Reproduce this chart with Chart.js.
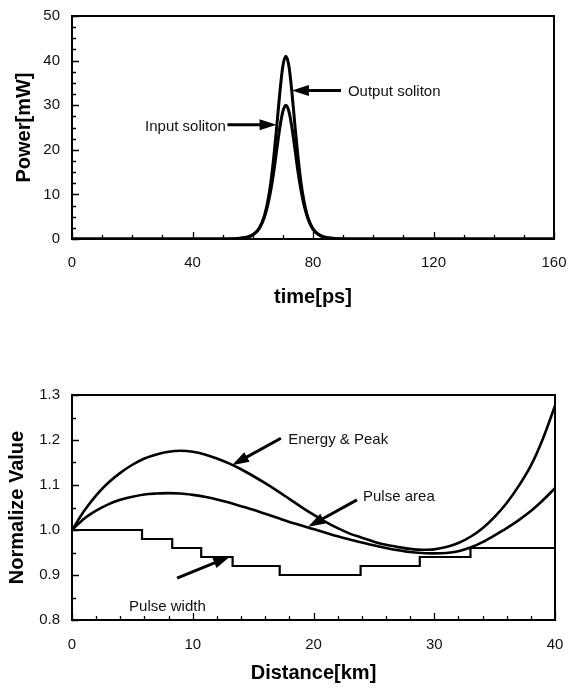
<!DOCTYPE html>
<html>
<head>
<meta charset="utf-8">
<script src="https://cdn.jsdelivr.net/npm/chart.js@4.4.0/dist/chart.umd.min.js"></script>
<style>
    html, body { margin: 0; padding: 0; background: #fff; }
    canvas { position: absolute; left: 0; }
    #graficoSoliton { top: 0; }
    #graficoDistancia { top: 320px; }
</style>
</head>
<body>
<canvas id="graficoSoliton" width="568" height="320"></canvas>
<canvas id="graficoDistancia" width="568" height="369"></canvas>
<script>
// Datos del pulso (gráfico superior)
const tiempo = [0, 40, 51, 55, 57, 59, 61, 62, 63, 64, 65, 66, 67, 68, 69, 70, 71, 72, 73, 74, 75, 76, 77, 78, 79, 80, 81, 83, 85, 87, 91, 102, 160];
const potenciaEntrada = [0, 0, 0.02, 0.11, 0.27, 0.64, 1.5, 2.3, 3.5, 5.2, 7.7, 11.0, 15.2, 20.2, 25.0, 28.6, 30, 28.6, 25.0, 20.2, 15.2, 11.0, 7.7, 5.2, 3.5, 2.3, 1.5, 0.64, 0.27, 0.11, 0.02, 0, 0];
const potenciaSalida = [0, 0, 0.01, 0.08, 0.21, 0.54, 1.4, 2.2, 3.5, 5.5, 8.5, 12.7, 18.5, 25.5, 32.9, 38.8, 41, 38.8, 32.9, 25.5, 18.5, 12.7, 8.5, 5.5, 3.5, 2.2, 1.4, 0.54, 0.21, 0.08, 0.01, 0, 0];

// Datos vs distancia (gráfico inferior)
const distancia = [0, 1, 2, 3, 4, 5, 6, 7, 8, 9, 10, 11, 12, 13, 14, 15, 16, 17, 18, 19, 20, 21, 22, 23, 24, 25, 26, 27, 28, 29, 30, 31, 32, 33, 34, 35, 36, 37, 38, 39, 40];
const energiaPico = [1.000, 1.042, 1.077, 1.105, 1.127, 1.145, 1.159, 1.168, 1.174, 1.176, 1.174, 1.168, 1.159, 1.148, 1.135, 1.120, 1.104, 1.087, 1.069, 1.051, 1.034, 1.018, 1.004, 0.992, 0.983, 0.974, 0.967, 0.962, 0.958, 0.956, 0.957, 0.962, 0.971, 0.985, 1.004, 1.029, 1.060, 1.098, 1.143, 1.203, 1.276];
const areaPulso = [1.000, 1.025, 1.043, 1.057, 1.067, 1.074, 1.079, 1.081, 1.082, 1.081, 1.078, 1.074, 1.068, 1.061, 1.053, 1.045, 1.036, 1.027, 1.018, 1.010, 1.002, 0.994, 0.986, 0.979, 0.972, 0.966, 0.960, 0.955, 0.951, 0.949, 0.948, 0.949, 0.953, 0.961, 0.973, 0.988, 1.004, 1.022, 1.042, 1.066, 1.093];
const anchoDistancia = [0, 5.8, 8.3, 10.7, 13.3, 17.2, 23.9, 28.8, 33.0, 40];
const anchoPulso = [1.00, 0.98, 0.96, 0.94, 0.92, 0.90, 0.92, 0.94, 0.96, 0.96];

const fuente = "'Liberation Sans', Arial, sans-serif";

// Marco, marcas interiores y flechas
const marcoPlugin = {
    id: 'marco',
    afterDatasetsDraw(chart, args, opts) {
        const ctx = chart.ctx;
        const { left, right, top, bottom } = chart.chartArea;
        const x = chart.scales.x;
        const y = chart.scales.y;
        ctx.save();
        ctx.strokeStyle = '#000';
        ctx.lineWidth = 1.3;
        ctx.beginPath();
        const nx = Math.round((x.max - x.min) / opts.xMenor);
        for (let i = 0; i <= nx; i++) {
            const v = x.min + i * opts.xMenor;
            const px = Math.round(x.getPixelForValue(v)) + 0.5;
            const r = v / opts.xMayor;
            const largo = Math.abs(r - Math.round(r)) < 1e-6 ? 7 : 4;
            ctx.moveTo(px, bottom);
            ctx.lineTo(px, bottom - largo);
        }
        const ny = Math.round((y.max - y.min) / opts.yMenor);
        for (let i = 0; i <= ny; i++) {
            const v = y.min + i * opts.yMenor;
            const py = Math.round(y.getPixelForValue(v)) + 0.5;
            const r = (v - y.min) / opts.yMayor;
            const largo = Math.abs(r - Math.round(r)) < 1e-6 ? 7 : 4;
            ctx.moveTo(left, py);
            ctx.lineTo(left + largo, py);
        }
        ctx.stroke();
        ctx.lineWidth = 2;
        ctx.strokeRect(left, top, right - left, bottom - top);

        // Flechas y textos
        (opts.notas || []).forEach(n => {
            const x0 = x.getPixelForValue(n.desde[0]);
            const y0 = y.getPixelForValue(n.desde[1]);
            const x1 = x.getPixelForValue(n.hasta[0]);
            const y1 = y.getPixelForValue(n.hasta[1]);
            const ang = Math.atan2(y1 - y0, x1 - x0);
            const cabeza = 17;
            const ancho = 5.5;
            ctx.lineWidth = 3;
            ctx.beginPath();
            ctx.moveTo(x0, y0);
            ctx.lineTo(x1 - cabeza * 0.8 * Math.cos(ang), y1 - cabeza * 0.8 * Math.sin(ang));
            ctx.stroke();
            ctx.fillStyle = '#000';
            ctx.beginPath();
            ctx.moveTo(x1, y1);
            ctx.lineTo(x1 - cabeza * Math.cos(ang) + ancho * Math.sin(ang), y1 - cabeza * Math.sin(ang) - ancho * Math.cos(ang));
            ctx.lineTo(x1 - cabeza * Math.cos(ang) - ancho * Math.sin(ang), y1 - cabeza * Math.sin(ang) + ancho * Math.cos(ang));
            ctx.closePath();
            ctx.fill();
            ctx.font = '15px ' + fuente;
            ctx.fillStyle = '#111';
            ctx.textAlign = n.alinear;
            ctx.textBaseline = 'middle';
            ctx.fillText(n.texto, x.getPixelForValue(n.pos[0]), y.getPixelForValue(n.pos[1]));
        });
        ctx.restore();
    }
};

// La separación de las etiquetas va en tickLength (no cuenta como relleno lateral)
function opcionesEjes(cfg) {
    return {
        x: {
            type: 'linear',
            min: cfg.xMin, max: cfg.xMax,
            grid: { display: false, drawTicks: true, tickLength: cfg.xPad },
            border: { display: false },
            ticks: { stepSize: cfg.xPaso, padding: 0, color: '#111', font: { family: fuente, size: 15 } },
            title: { display: true, text: cfg.xTitulo, color: '#000', padding: { top: 0, bottom: cfg.xTitPad }, font: { family: fuente, size: 20, weight: 'bold' } },
            afterFit: s => { s.height = cfg.xAlto; }
        },
        y: {
            type: 'linear',
            min: cfg.yMin, max: cfg.yMax,
            grid: { display: false, drawTicks: true, tickLength: 12 },
            border: { display: false },
            ticks: { stepSize: cfg.yPaso, padding: 0, color: '#111', font: { family: fuente, size: 15 }, callback: cfg.yFormato },
            title: { display: true, text: cfg.yTitulo, color: '#000', padding: { top: cfg.yTitPad, bottom: 0 }, font: { family: fuente, size: 20, weight: 'bold' } },
            afterFit: s => { s.width = 72; }
        }
    };
}

function linea(datos, ancho, extra) {
    return Object.assign({
        data: datos,
        borderColor: '#000',
        borderWidth: ancho,
        pointRadius: 0,
        fill: false
    }, extra || {});
}

// Gráfico superior: potencia vs tiempo
new Chart(document.getElementById('graficoSoliton').getContext('2d'), {
    type: 'line',
    data: {
        datasets: [
            linea(tiempo.map((t, i) => ({ x: t, y: potenciaEntrada[i] })), 3, { cubicInterpolationMode: 'monotone' }),
            linea(tiempo.map((t, i) => ({ x: t, y: potenciaSalida[i] })), 3, { cubicInterpolationMode: 'monotone' })
        ]
    },
    options: {
        responsive: false,
        animation: false,
        layout: { autoPadding: false, padding: { top: 16, right: 14, left: 0, bottom: 0 } },
        plugins: {
            legend: { display: false },
            tooltip: { enabled: false },
            marco: {
                xMenor: 10, xMayor: 40, yMenor: 2.5, yMayor: 10,
                notas: [
                    { texto: 'Input soliton', pos: [51.1, 25.1], alinear: 'right', desde: [51.6, 25.6], hasta: [67.9, 25.6] },
                    { texto: 'Output soliton', pos: [91.6, 33.0], alinear: 'left', desde: [89.3, 33.3], hasta: [73.0, 33.3] }
                ]
            }
        },
        scales: opcionesEjes({
            xMin: 0, xMax: 160, xPaso: 40, xTitulo: 'time[ps]', xAlto: 81, xTitPad: 11, xPad: 15,
            yMin: 0, yMax: 50, yPaso: 10, yTitulo: 'Power[mW]', yTitPad: 12
        })
    },
    plugins: [marcoPlugin]
});

// Gráfico inferior: valores normalizados vs distancia
new Chart(document.getElementById('graficoDistancia').getContext('2d'), {
    type: 'line',
    data: {
        datasets: [
            linea(distancia.map((d, i) => ({ x: d, y: energiaPico[i] })), 2.6, { cubicInterpolationMode: 'monotone' }),
            linea(distancia.map((d, i) => ({ x: d, y: areaPulso[i] })), 2.6, { cubicInterpolationMode: 'monotone' }),
            linea(anchoDistancia.map((d, i) => ({ x: d, y: anchoPulso[i] })), 2.2, { stepped: true })
        ]
    },
    options: {
        responsive: false,
        animation: false,
        layout: { autoPadding: false, padding: { top: 75, right: 13, left: 0, bottom: 0 } },
        plugins: {
            legend: { display: false },
            tooltip: { enabled: false },
            marco: {
                xMenor: 2, xMayor: 10, yMenor: 0.05, yMayor: 0.1,
                notas: [
                    { texto: 'Energy & Peak', pos: [17.9, 1.2], alinear: 'left', desde: [17.3, 1.204], hasta: [13.25, 1.144] },
                    { texto: 'Pulse area', pos: [24.1, 1.073], alinear: 'left', desde: [23.6, 1.067], hasta: [19.55, 1.007] },
                    { texto: 'Pulse width', pos: [7.9, 0.829], alinear: 'center', desde: [8.7, 0.893], hasta: [13.1, 0.941] }
                ]
            }
        },
        scales: opcionesEjes({
            xMin: 0, xMax: 40, xPaso: 10, xTitulo: 'Distance[km]', xAlto: 69, xTitPad: 4, xPad: 16,
            yMin: 0.8, yMax: 1.3, yPaso: 0.1, yTitulo: 'Normalize Value', yTitPad: 5,
            yFormato: v => v.toFixed(1)
        })
    },
    plugins: [marcoPlugin]
});
</script>
</body>
</html>
